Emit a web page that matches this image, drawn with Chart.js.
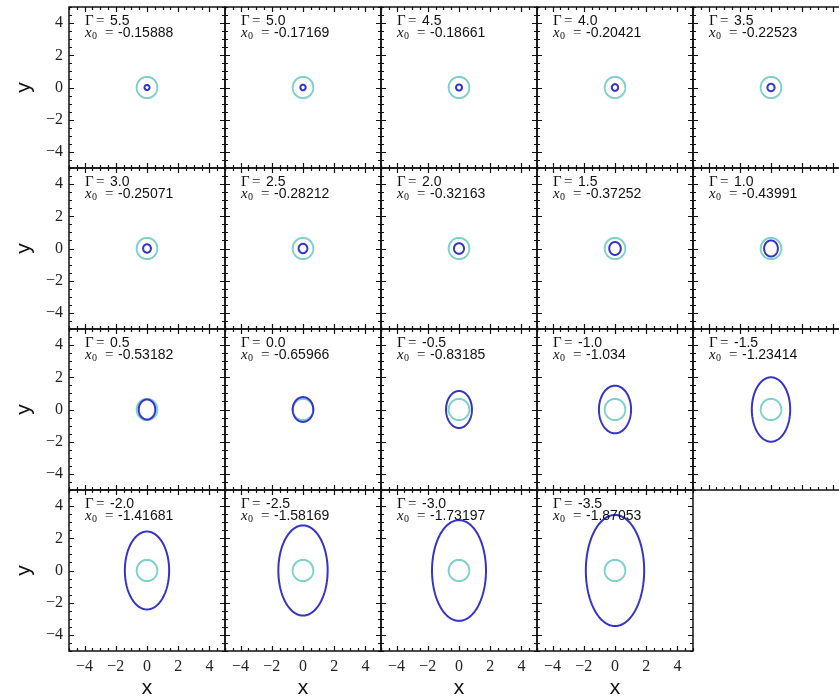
<!DOCTYPE html>
<html>
<head>
<meta charset="utf-8">
<script src="https://cdn.jsdelivr.net/npm/chart.js@4"></script>
<style>
  html, body { margin: 0; padding: 0; background: #fff; overflow: hidden; }
  #grid { position: relative; width: 839px; height: 700px; overflow: hidden; }
  #grid canvas { position: absolute; }
</style>
</head>
<body>
<div id="grid"></div>
<script>
// one panel per Gamma value, read left to right, top to bottom
const gammas = [5.5, 5.0, 4.5, 4.0, 3.5, 3.0, 2.5, 2.0, 1.5, 1.0, 0.5, 0.0, -0.5, -1.0, -1.5, -2.0, -2.5, -3.0, -3.5];
const x0Labels = ['-0.15888', '-0.17169', '-0.18661', '-0.20421', '-0.22523', '-0.25071', '-0.28212', '-0.32163', '-0.37252', '-0.43991',
  '-0.53182', '-0.65966', '-0.83185', '-1.034', '-1.23414', '-1.41681', '-1.58169', '-1.73197', '-1.87053'];

// half width / half height of the blue orbit
const orbitHalfWidth = [0.16, 0.17, 0.19, 0.20, 0.23, 0.25, 0.28, 0.32, 0.37, 0.44, 0.53, 0.66, 0.83, 1.03, 1.23, 1.42, 1.58, 1.73, 1.87];
const orbitHalfHeight = [0.16, 0.175, 0.19, 0.21, 0.23, 0.26, 0.29, 0.33, 0.40, 0.50, 0.62, 0.77, 1.15, 1.48, 2.0, 2.42, 2.8, 3.13, 3.45];

// the cyan reference circle is the same in every panel
const circleRadius = 0.66;

// axis ticks
const tickValues = [-5, -4.5, -4, -3.5, -3, -2.5, -2, -1.5, -1, -0.5, 0, 0.5, 1, 1.5, 2, 2.5, 3, 3.5, 4, 4.5, 5];
const majorTicks = [-4, -2, 0, 2, 4];
const majorTickLabels = ['\u22124', '\u22122', '0', '2', '4'];

const blue = '#3434cc';
const cyan = '#7fd0cc';

const panelWidth = 156;
const panelHeight = 161;
const gridLeft = 69;
const gridTop = 7;
const marginLeft = 70;
const marginTop = 7;
const marginRight = 4;
const marginBottom = 50;

const outline = (a, b) => {
  const pts = [];
  const n = 144;
  for (let k = 0; k <= n; k++) {
    const t = k / n * 2 * Math.PI;
    pts.push({ x: a * Math.cos(t), y: b * Math.sin(t) });
  }
  return pts;
};

const tickLabel = (v) => {
  const idx = majorTicks.indexOf(v);
  return idx >= 0 ? majorTickLabels[idx] : null;
};

// frame, inward ticks on all four sides, and the Gamma / x0 text
const panelDecor = {
  id: 'panelDecor',
  afterDraw(chart, args, opts) {
    const { ctx, chartArea: { left, right, top, bottom } } = chart;
    const xs = chart.scales.x;
    const ys = chart.scales.y;

    ctx.save();
    ctx.strokeStyle = '#111';
    ctx.lineWidth = 1.2;
    ctx.beginPath();
    for (const v of tickValues) {
      const px = Math.round(xs.getPixelForValue(v)) + 0.5;
      const len = majorTicks.includes(v) ? 5 : 3;
      ctx.moveTo(px, bottom); ctx.lineTo(px, bottom - len);
      ctx.moveTo(px, top); ctx.lineTo(px, top + len);
    }
    for (const v of tickValues) {
      const py = Math.round(ys.getPixelForValue(v)) + 0.5;
      const len = majorTicks.includes(v) ? 5 : 3;
      ctx.moveTo(left, py); ctx.lineTo(left + len, py);
      ctx.moveTo(right, py); ctx.lineTo(right - len, py);
    }
    ctx.stroke();

    ctx.lineWidth = 1.5;
    ctx.strokeRect(left, top, right - left, bottom - top);

    // annotation
    const x = left + 16;
    const y1 = top + 18;
    const y2 = top + 30;
    ctx.fillStyle = '#111';
    ctx.textBaseline = 'alphabetic';
    ctx.textAlign = 'left';

    ctx.font = '15px "Liberation Serif"';
    ctx.fillText('\u0393', x, y1);
    ctx.fillText('=', x + 11, y1);
    ctx.font = '14px "Liberation Sans"';
    ctx.fillText(opts.gamma.toFixed(1), x + 25, y1);

    ctx.font = 'italic 15px "Liberation Serif"';
    ctx.fillText('x', x, y2);
    ctx.font = '10px "Liberation Serif"';
    ctx.fillText('0', x + 7, y2 + 2);
    ctx.font = '15px "Liberation Serif"';
    ctx.fillText('=', x + 20, y2);
    ctx.font = '14px "Liberation Sans"';
    ctx.fillText(opts.x0, x + 33, y2);
    ctx.restore();
  }
};

const grid = document.getElementById('grid');

const createPanel = (i) => {
  const row = Math.floor(i / 5);
  const col = i % 5;
  const isLeft = col === 0;
  const isBottom = row === 3;

  const canvas = document.createElement('canvas');
  canvas.width = marginLeft + panelWidth + marginRight;
  canvas.height = marginTop + panelHeight + marginBottom;
  canvas.style.left = (gridLeft + col * panelWidth - marginLeft) + 'px';
  canvas.style.top = (gridTop + row * panelHeight - marginTop) + 'px';
  grid.appendChild(canvas);

  const tickFont = { family: '"Liberation Serif"', size: 16 };
  const titleFont = { family: '"Liberation Sans"', size: 21 };

  const lineStyle = {
    showLine: true,
    borderWidth: 2,
    pointRadius: 0,
    fill: false,
    tension: 0.0001 // keeps the line off Chart.js' fast path, which mangles closed curves
  };

  const config = {
    type: 'scatter',
    data: {
      datasets: [
        {
          label: 'orbit',
          data: outline(orbitHalfWidth[i], orbitHalfHeight[i]),
          borderColor: blue,
          ...lineStyle
        },
        {
          label: 'circle',
          data: outline(circleRadius, circleRadius),
          borderColor: cyan,
          ...lineStyle
        }
      ]
    },
    options: {
      responsive: false,
      animation: false,
      events: [],
      layout: { padding: { left: 0, top: marginTop, right: marginRight, bottom: 0 } },
      plugins: {
        legend: { display: false },
        tooltip: { enabled: false },
        panelDecor: { gamma: gammas[i], x0: x0Labels[i] }
      },
      scales: {
        x: {
          type: 'linear',
          min: -5,
          max: 5,
          afterBuildTicks: (scale) => { scale.ticks = tickValues.map(v => ({ value: v })); },
          afterFit: (scale) => {
            scale.height = marginBottom;
            scale.paddingLeft = 0;
            scale.paddingRight = 0;
          },
          grid: { display: false, drawTicks: false },
          border: { display: false },
          ticks: {
            display: isBottom,
            autoSkip: false,
            maxRotation: 0,
            padding: 6,
            color: '#222',
            font: tickFont,
            callback: tickLabel
          },
          title: {
            display: isBottom,
            text: 'x',
            color: '#111',
            font: titleFont,
            padding: { top: 0, bottom: 0 }
          }
        },
        y: {
          type: 'linear',
          min: -5,
          max: 5,
          afterBuildTicks: (scale) => { scale.ticks = tickValues.map(v => ({ value: v })); },
          afterFit: (scale) => {
            scale.width = marginLeft;
            scale.paddingTop = 0;
            scale.paddingBottom = 0;
          },
          grid: { display: false, drawTicks: false },
          border: { display: false },
          ticks: {
            display: isLeft,
            autoSkip: false,
            padding: 6,
            color: '#222',
            font: tickFont,
            callback: tickLabel
          },
          title: {
            display: isLeft,
            text: 'y',
            color: '#111',
            font: titleFont,
            padding: { top: 13, bottom: 0 }
          }
        }
      }
    },
    plugins: [panelDecor]
  };

  return new Chart(canvas, config);
};

gammas.forEach((g, i) => createPanel(i));
</script>
</body>
</html>
